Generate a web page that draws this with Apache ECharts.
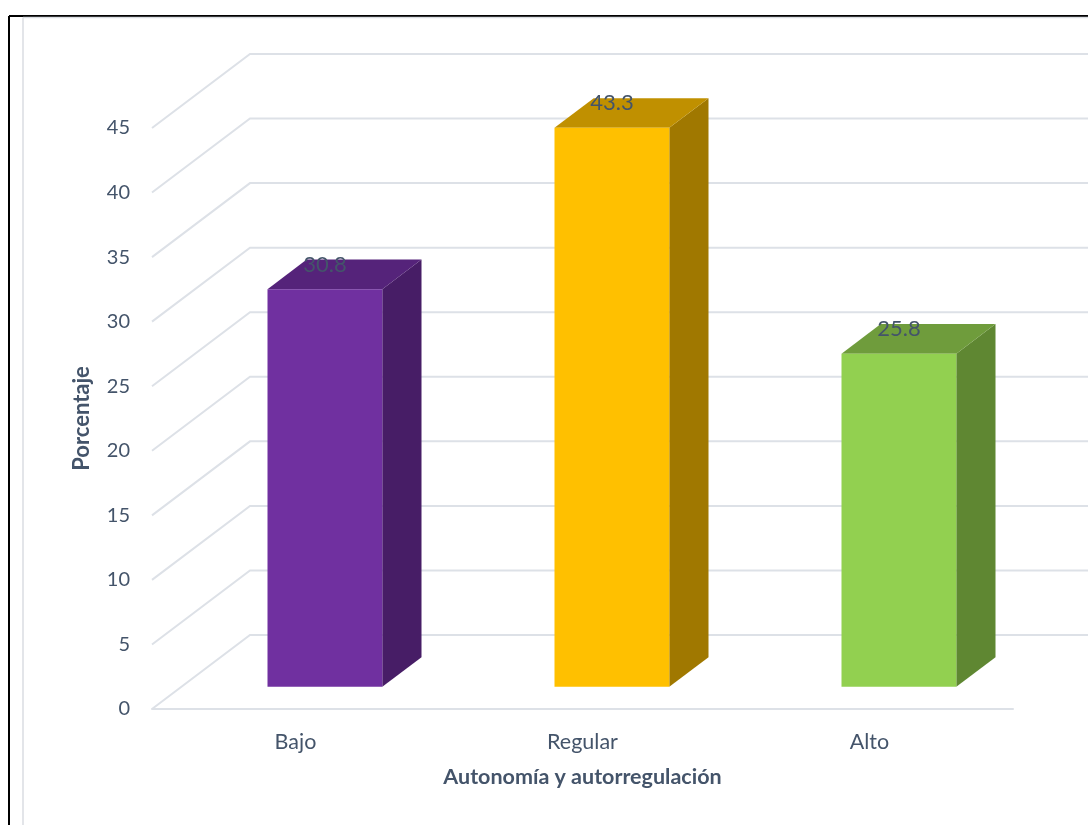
<!DOCTYPE html>
<html>
<head>
<meta charset="utf-8">
<script src="https://cdn.jsdelivr.net/npm/echarts@6/dist/echarts.min.js"></script>
<style>
  html, body { margin: 0; padding: 0; background: #ffffff; }
  #chart { width: 1088px; height: 825px; }
</style>
</head>
<body>
<div id="chart"></div>
<script>
// Categories and percentages
const categories = ['Bajo', 'Regular', 'Alto'];
const values = [30.8, 43.3, 25.8];
const yTicks = [0, 5, 10, 15, 20, 25, 30, 35, 40, 45];

// Face colours per bar: front, top, side
const faceColors = [
  { front: '#7030A0', top: '#55237A', side: '#471D66' },
  { front: '#FFC000', top: '#C09000', side: '#A07800' },
  { front: '#92D050', top: '#6F9C3C', side: '#5F8732' }
];

// Oblique depth of the 3D box (pixels) and where bars sit in it
const DEPTH = [98, -74];
const BAR_FRONT = 0.3;
const BAR_DEPTH = 0.4;
const BAR_WIDTH = 0.4;

const textColor = '#44546A';
const gridColor = '#DDE1E7';
const font = 'Lato, "Open Sans", sans-serif';

const chart = echarts.init(document.getElementById('chart'));

// Side wall diagonal plus back wall line for one gridline value
function renderWall(params, api) {
  const v = api.value(0);
  const cs = params.coordSys;
  const y = api.coord([0, v])[1];
  const x0 = cs.x;
  const x1 = cs.x + cs.width;
  return {
    type: 'polyline',
    shape: {
      points: [
        [x0, y],
        [x0 + DEPTH[0], y + DEPTH[1]],
        [x1 + DEPTH[0], y + DEPTH[1]]
      ]
    },
    style: { stroke: gridColor, lineWidth: 2, fill: null },
    silent: true
  };
}

// Oblique box: side, top and front faces plus a value label
function renderBar(params, api) {
  const i = api.value(0);
  const v = api.value(1);
  const base = api.coord([i, 0]);
  const top = api.coord([i, v]);
  const band = api.size([1, 0])[0];
  const w = band * BAR_WIDTH;
  const fx = BAR_FRONT * DEPTH[0], fy = BAR_FRONT * DEPTH[1];
  const dx = BAR_DEPTH * DEPTH[0], dy = BAR_DEPTH * DEPTH[1];
  const xl = base[0] - w / 2 + fx;
  const xr = xl + w;
  const yb = base[1] + fy;
  const yt = top[1] + fy;
  const c = faceColors[i];
  return {
    type: 'group',
    children: [
      {
        type: 'polygon',
        shape: { points: [[xr, yb], [xr + dx, yb + dy], [xr + dx, yt + dy], [xr, yt]] },
        style: { fill: c.side }
      },
      {
        type: 'polygon',
        shape: { points: [[xl, yt], [xr, yt], [xr + dx, yt + dy], [xl + dx, yt + dy]] },
        style: { fill: c.top }
      },
      {
        type: 'rect',
        shape: { x: xl, y: yt, width: w, height: yb - yt },
        style: { fill: c.front }
      },
      {
        type: 'text',
        style: {
          x: base[0] + fx,
          y: yt + dy + 5,
          text: String(v),
          fill: textColor,
          font: '22px ' + font,
          textAlign: 'center',
          textVerticalAlign: 'middle'
        }
      }
    ]
  };
}

chart.setOption({
  animation: false,
  backgroundColor: '#ffffff',
  textStyle: { fontFamily: font },
  grid: { left: 152, right: 75, top: 128, bottom: 116, containLabel: false },
  xAxis: {
    type: 'category',
    data: categories,
    axisLine: { show: true, lineStyle: { color: gridColor, width: 2 } },
    axisTick: { show: false },
    axisLabel: { color: textColor, fontSize: 21.5, margin: 22, fontFamily: font },
    name: 'Autonomía y autorregulación',
    nameLocation: 'middle',
    nameGap: 57,
    nameTextStyle: { color: textColor, fontSize: 21.5, fontWeight: 'bold', fontFamily: font }
  },
  yAxis: {
    type: 'value',
    min: 0,
    max: 45,
    interval: 5,
    splitLine: { show: false },
    axisLine: { show: false },
    axisTick: { show: false },
    axisLabel: { color: textColor, fontSize: 20, margin: 22, fontFamily: font },
    name: 'Porcentaje',
    nameLocation: 'middle',
    nameGap: 59,
    nameRotate: 90,
    nameTextStyle: { color: textColor, fontSize: 22, fontWeight: 'bold', fontFamily: font }
  },
  graphic: [
    { type: 'line', shape: { x1: 9, y1: 16, x2: 1088, y2: 16 }, style: { stroke: '#000', lineWidth: 2 } },
    { type: 'line', shape: { x1: 9, y1: 16, x2: 9, y2: 825 }, style: { stroke: '#000', lineWidth: 2 } },
    { type: 'line', shape: { x1: 23, y1: 17.5, x2: 1088, y2: 17.5 }, style: { stroke: '#DADDE2', lineWidth: 1.5 } },
    { type: 'line', shape: { x1: 23, y1: 17.5, x2: 23, y2: 825 }, style: { stroke: '#DADDE2', lineWidth: 1.5 } }
  ],
  series: [
    {
      type: 'custom',
      name: 'walls',
      z: 1,
      clip: false,
      renderItem: renderWall,
      data: yTicks.map(t => [t]),
      encode: { y: 0 }
    },
    {
      type: 'custom',
      name: 'Porcentaje',
      z: 5,
      clip: false,
      renderItem: renderBar,
      data: values.map((v, i) => [i, v]),
      encode: { x: 0, y: 1 }
    }
  ]
});
</script>
</body>
</html>
